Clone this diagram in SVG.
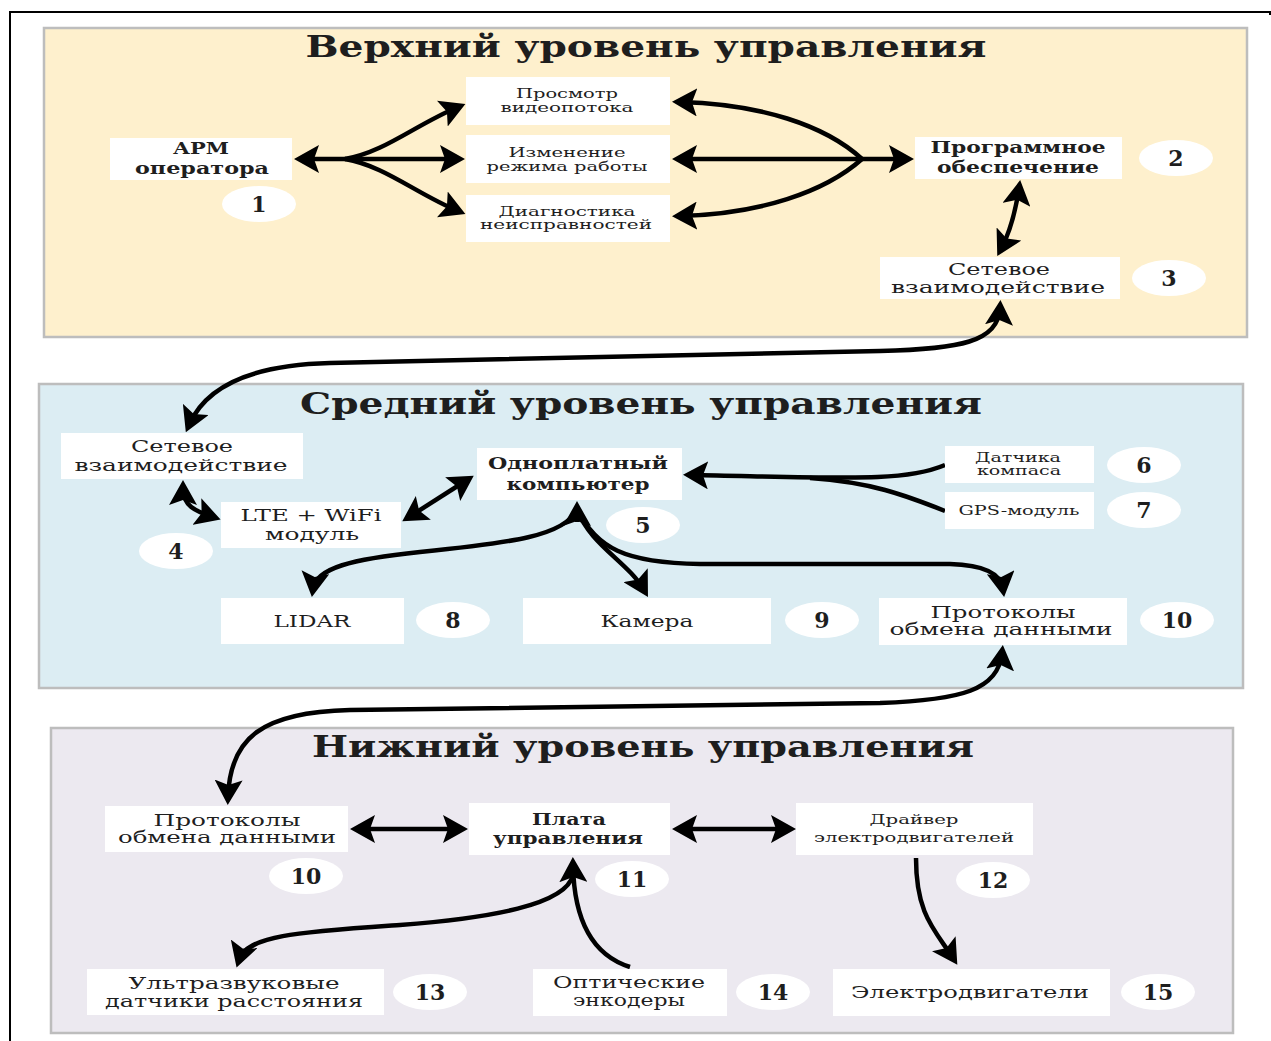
<svg xmlns="http://www.w3.org/2000/svg" width="1271" height="1041" viewBox="0 0 1271 1041">
<defs>
<marker id="ah" viewBox="0 0 25 28" refX="17" refY="14" markerWidth="25" markerHeight="28" markerUnits="userSpaceOnUse" orient="auto-start-reverse"><path d="M0,0 L25,14 L0,28 L5,14 z" fill="#000"/></marker>
</defs>
<style>
.panel{stroke:#bdbdbd;stroke-width:2.5}
.box{fill:#fff}
.badge{fill:#fff}
.t{font-family:"DejaVu Serif","Liberation Serif",serif;fill:#1e1e1e;text-anchor:middle}
.title{font-size:29px;font-weight:bold}
.m{font-size:16px}
.b{font-size:16px;font-weight:bold}
.s{font-size:13px}
.n{font-size:22px;font-weight:bold}
.c{fill:none;stroke:#000;stroke-width:4.5}
.bi{marker-start:url(#ah);marker-end:url(#ah)}
.e{marker-end:url(#ah)}
.st{marker-start:url(#ah)}
</style>
<rect width="1271" height="1041" fill="#fff"/>
<path d="M9,12 H1270 V15 M10,12 V1041" fill="none" stroke="#000" stroke-width="2"/>

<g id="panel-top">
<rect class="panel" x="44" y="28" width="1203" height="309" fill="#fef0cd"/>
<text class="t title" x="646" y="57" textLength="681" lengthAdjust="spacingAndGlyphs">Верхний уровень управления</text>
</g>
<g id="panel-mid">
<rect class="panel" x="39" y="384" width="1204" height="304" fill="#dcedf3"/>
<text class="t title" x="641" y="414" textLength="682" lengthAdjust="spacingAndGlyphs">Средний уровень управления</text>
</g>
<g id="panel-bot">
<rect class="panel" x="51" y="728" width="1182" height="305" fill="#ece9f0"/>
<text class="t title" x="643" y="757" textLength="662" lengthAdjust="spacingAndGlyphs">Нижний уровень управления</text>
</g>

<g id="connectors">
<path class="c st" d="M302,159 L345,159"/>
<path class="c e" d="M345,159 L457,159"/>
<path class="c e" d="M345,159 C385,152 415,125 458,107"/>
<path class="c e" d="M345,159 C385,166 415,193 458,211"/>
<path class="c bi" d="M680,159 L906,159"/>
<path class="c st" d="M680,102 C760,104 825,125 862,159"/>
<path class="c st" d="M680,216 C760,214 825,192 862,159"/>
<path class="c bi" d="M1019,188 C1015,215 1010,232 1001,249"/>
<path class="c bi" d="M1000,308 C998,342 960,349 880,351 L330,363 C250,365 205,388 189,425"/>
<path class="c bi" d="M183,488 C183,506 195,511 213,517"/>
<path class="c bi" d="M409,517 L467,480"/>
<path class="c e" d="M945,465 C905,482 850,478 691,475"/>
<path class="c" d="M945,511 C905,495 870,482 810,478"/>
<path class="c e" d="M577,522 L577,509"/>
<path class="c e" d="M577,509 C566,536 510,543 420,552 C352,559 316,568 313,589"/>
<path class="c e" d="M577,509 C590,545 628,562 644,590"/>
<path class="c e" d="M577,509 C596,548 625,563 700,564 L950,564 C988,565 1001,575 1003,589"/>
<path class="c bi" d="M1002,653 C998,690 962,700 880,703 L350,710 C262,712 230,738 228,797"/>
<path class="c bi" d="M358,829 L460,829"/>
<path class="c bi" d="M680,829 L788,829"/>
<path class="c e" d="M630,967 C592,955 574,920 573,865"/>
<path class="c e" d="M573,875 C566,905 490,918 400,925 C300,932 247,935 239,960"/>
<path class="c e" d="M916,858 C916,915 935,930 953,958"/>
</g>

<g id="n1">
<rect class="box" x="110" y="138" width="182" height="42"/>
<text class="t b" x="201" y="154" textLength="56" lengthAdjust="spacingAndGlyphs">АРМ</text>
<text class="t b" x="202" y="174" textLength="134" lengthAdjust="spacingAndGlyphs">оператора</text>
<ellipse class="badge" cx="259" cy="204" rx="37" ry="18"/>
<text class="t n" x="259" y="212">1</text>
</g>
<g id="n-view">
<rect class="box" x="466" y="77" width="204" height="48"/>
<text class="t s" x="567" y="98" textLength="102" lengthAdjust="spacingAndGlyphs">Просмотр</text>
<text class="t s" x="567" y="112" textLength="133" lengthAdjust="spacingAndGlyphs">видеопотока</text>
</g>
<g id="n-mode">
<rect class="box" x="466" y="135" width="204" height="48"/>
<text class="t s" x="567" y="157" textLength="117" lengthAdjust="spacingAndGlyphs">Изменение</text>
<text class="t s" x="567" y="171" textLength="161" lengthAdjust="spacingAndGlyphs">режима работы</text>
</g>
<g id="n-diag">
<rect class="box" x="466" y="195" width="204" height="47"/>
<text class="t s" x="567" y="216" textLength="137" lengthAdjust="spacingAndGlyphs">Диагностика</text>
<text class="t s" x="566" y="229" textLength="172" lengthAdjust="spacingAndGlyphs">неисправностей</text>
</g>
<g id="n2">
<rect class="box" x="915" y="137" width="207" height="42"/>
<text class="t b" x="1018" y="153" textLength="175" lengthAdjust="spacingAndGlyphs">Программное</text>
<text class="t b" x="1018" y="173" textLength="162" lengthAdjust="spacingAndGlyphs">обеспечение</text>
<ellipse class="badge" cx="1176" cy="158" rx="37" ry="18"/>
<text class="t n" x="1176" y="166">2</text>
</g>
<g id="n3">
<rect class="box" x="880" y="257" width="240" height="42"/>
<text class="t m" x="999" y="275" textLength="102" lengthAdjust="spacingAndGlyphs">Сетевое</text>
<text class="t m" x="998" y="293" textLength="214" lengthAdjust="spacingAndGlyphs">взаимодействие</text>
<ellipse class="badge" cx="1169" cy="278" rx="37" ry="18"/>
<text class="t n" x="1169" y="286">3</text>
</g>

<g id="n-net-mid">
<rect class="box" x="61" y="433" width="242" height="46"/>
<text class="t m" x="182" y="452" textLength="102" lengthAdjust="spacingAndGlyphs">Сетевое</text>
<text class="t m" x="181" y="471" textLength="213" lengthAdjust="spacingAndGlyphs">взаимодействие</text>
</g>
<g id="n4">
<rect class="box" x="221" y="502" width="180" height="46"/>
<text class="t m" x="311" y="521" textLength="141" lengthAdjust="spacingAndGlyphs">LTE + WiFi</text>
<text class="t m" x="312" y="540" textLength="94" lengthAdjust="spacingAndGlyphs">модуль</text>
<ellipse class="badge" cx="176" cy="551" rx="37" ry="18"/>
<text class="t n" x="176" y="559">4</text>
</g>
<g id="n5">
<rect class="box" x="477" y="448" width="205" height="52"/>
<text class="t b" x="578" y="469" textLength="180" lengthAdjust="spacingAndGlyphs">Одноплатный</text>
<text class="t b" x="578" y="490" textLength="143" lengthAdjust="spacingAndGlyphs">компьютер</text>
<ellipse class="badge" cx="643" cy="525" rx="37" ry="18"/>
<text class="t n" x="643" y="533">5</text>
</g>
<g id="n6">
<rect class="box" x="945" y="446" width="149" height="37"/>
<text class="t s" x="1018" y="462" textLength="86" lengthAdjust="spacingAndGlyphs">Датчика</text>
<text class="t s" x="1019" y="475" textLength="84" lengthAdjust="spacingAndGlyphs">компаса</text>
<ellipse class="badge" cx="1144" cy="465" rx="37" ry="18"/>
<text class="t n" x="1144" y="473">6</text>
</g>
<g id="n7">
<rect class="box" x="945" y="492" width="149" height="37"/>
<text class="t s" x="1019" y="515" textLength="121" lengthAdjust="spacingAndGlyphs">GPS-модуль</text>
<ellipse class="badge" cx="1144" cy="510" rx="37" ry="18"/>
<text class="t n" x="1144" y="518">7</text>
</g>
<g id="n8">
<rect class="box" x="221" y="598" width="183" height="46"/>
<text class="t m" x="312" y="627" textLength="77" lengthAdjust="spacingAndGlyphs">LIDAR</text>
<ellipse class="badge" cx="453" cy="620" rx="37" ry="18"/>
<text class="t n" x="453" y="628">8</text>
</g>
<g id="n9">
<rect class="box" x="523" y="598" width="248" height="46"/>
<text class="t m" x="647" y="627" textLength="93" lengthAdjust="spacingAndGlyphs">Камера</text>
<ellipse class="badge" cx="822" cy="620" rx="37" ry="18"/>
<text class="t n" x="822" y="628">9</text>
</g>
<g id="n10-mid">
<rect class="box" x="879" y="598" width="248" height="47"/>
<text class="t m" x="1003" y="618" textLength="145" lengthAdjust="spacingAndGlyphs">Протоколы</text>
<text class="t m" x="1001" y="635" textLength="223" lengthAdjust="spacingAndGlyphs">обмена данными</text>
<ellipse class="badge" cx="1177" cy="620" rx="37" ry="18"/>
<text class="t n" x="1177" y="628">10</text>
</g>

<g id="n10-bot">
<rect class="box" x="105" y="806" width="243" height="46"/>
<text class="t m" x="227" y="826" textLength="147" lengthAdjust="spacingAndGlyphs">Протоколы</text>
<text class="t m" x="227" y="843" textLength="218" lengthAdjust="spacingAndGlyphs">обмена данными</text>
<ellipse class="badge" cx="306" cy="876" rx="37" ry="18"/>
<text class="t n" x="306" y="884">10</text>
</g>
<g id="n11">
<rect class="box" x="469" y="803" width="201" height="52"/>
<text class="t b" x="569" y="825" textLength="74" lengthAdjust="spacingAndGlyphs">Плата</text>
<text class="t b" x="568" y="844" textLength="150" lengthAdjust="spacingAndGlyphs">управления</text>
<ellipse class="badge" cx="632" cy="879" rx="37" ry="18"/>
<text class="t n" x="632" y="887">11</text>
</g>
<g id="n12">
<rect class="box" x="796" y="803" width="237" height="52"/>
<text class="t s" x="914" y="824" textLength="89" lengthAdjust="spacingAndGlyphs">Драйвер</text>
<text class="t s" x="914" y="842" textLength="200" lengthAdjust="spacingAndGlyphs">электродвигателей</text>
<ellipse class="badge" cx="993" cy="880" rx="37" ry="18"/>
<text class="t n" x="993" y="888">12</text>
</g>
<g id="n13">
<rect class="box" x="87" y="969" width="297" height="46"/>
<text class="t m" x="234" y="989" textLength="211" lengthAdjust="spacingAndGlyphs">Ультразвуковые</text>
<text class="t m" x="234" y="1007" textLength="258" lengthAdjust="spacingAndGlyphs">датчики расстояния</text>
<ellipse class="badge" cx="430" cy="992" rx="37" ry="18"/>
<text class="t n" x="430" y="1000">13</text>
</g>
<g id="n14">
<rect class="box" x="533" y="969" width="194" height="47"/>
<text class="t m" x="629" y="988" textLength="152" lengthAdjust="spacingAndGlyphs">Оптические</text>
<text class="t m" x="629" y="1006" textLength="112" lengthAdjust="spacingAndGlyphs">энкодеры</text>
<ellipse class="badge" cx="773" cy="992" rx="37" ry="18"/>
<text class="t n" x="773" y="1000">14</text>
</g>
<g id="n15">
<rect class="box" x="833" y="969" width="277" height="47"/>
<text class="t m" x="970" y="998" textLength="238" lengthAdjust="spacingAndGlyphs">Электродвигатели</text>
<ellipse class="badge" cx="1158" cy="992" rx="37" ry="18"/>
<text class="t n" x="1158" y="1000">15</text>
</g>
</svg>
